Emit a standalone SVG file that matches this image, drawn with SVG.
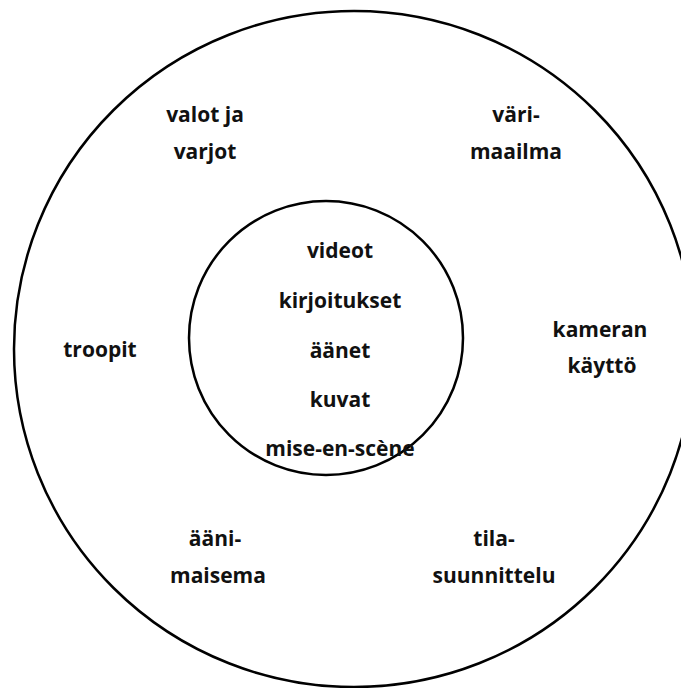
<svg xmlns="http://www.w3.org/2000/svg" width="681" height="688" viewBox="0 0 681 688">
<style>
.ring{fill:none;stroke:#000;stroke-width:2.5}
text{font-family:"Open Sans","Noto Sans",sans-serif;font-weight:700;font-size:21px;fill:#111;text-anchor:middle}
</style>
<rect width="681" height="688" fill="#fff"/>
<g id="outer"><ellipse class="ring" cx="354" cy="349" rx="340" ry="338"/></g>
<g id="inner"><circle class="ring" cx="326" cy="338" r="137"/></g>
<g id="center-labels">
<text x="340" y="258">videot</text>
<text x="340" y="308">kirjoitukset</text>
<text x="340" y="358">äänet</text>
<text x="340" y="407">kuvat</text>
<text x="340" y="456">mise-en-scène</text>
</g>
<g id="valot"><text x="205" y="122">valot ja</text><text x="205" y="159">varjot</text></g>
<g id="vari"><text x="516" y="122">väri-</text><text x="516" y="159">maailma</text></g>
<g id="troopit"><text x="100" y="357">troopit</text></g>
<g id="kamera"><text x="600" y="337">kameran</text><text x="602" y="373">käyttö</text></g>
<g id="aani"><text x="215" y="546">ääni-</text><text x="218" y="583">maisema</text></g>
<g id="tila"><text x="494" y="546">tila-</text><text x="494" y="583">suunnittelu</text></g>
</svg>
